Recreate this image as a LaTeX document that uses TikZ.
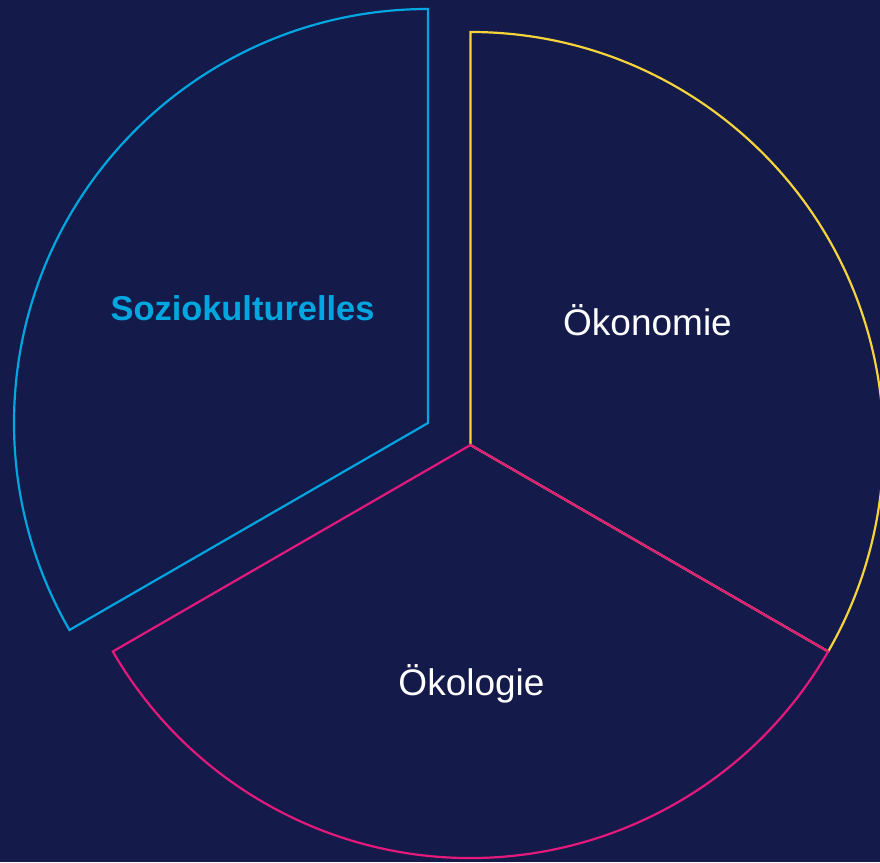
\documentclass[tikz,border=0pt]{standalone}
\usepackage{fontspec}
\setmainfont{Liberation Sans}
\definecolor{bg}{HTML}{141B4B}
\definecolor{cyanc}{HTML}{00A6E0}
\definecolor{yellowc}{HTML}{F5D33A}
\definecolor{pinkc}{HTML}{E3197B}
\tikzset{
  sector/.style={line width=2.2pt, line join=miter},
  lbl/.style={anchor=base, inner sep=0pt, font=\fontsize{37}{40}\selectfont, text=white},
}
\begin{document}
\begin{tikzpicture}[x=1pt,y=1pt]
\useasboundingbox (0,0) rectangle (880,862);
\fill[bg] (0,0) rectangle (880,862);
\coordinate (c) at (470.5,417);
\coordinate (s) at (428,439);
% Oekonomie
\draw[sector, yellowc] (c) -- ++(90:413) arc[start angle=90, end angle=-30, radius=413] -- cycle;
% Oekologie
\draw[sector, pinkc] (c) -- ++(-30:413) arc[start angle=-30, end angle=-150, radius=413] -- cycle;
% Soziokulturelles
\draw[sector, cyanc] (s) -- ++(90:414) arc[start angle=90, end angle=210, radius=414] -- cycle;
\node[lbl, text=cyanc, font=\fontsize{34.4}{38}\selectfont\bfseries] (tsoz) at (242.5,541) {Soziokulturelles};
\node[lbl] (toek) at (647.5,526) {Ökonomie};
\node[lbl] (tokl) at (471.5,167) {Ökologie};
\end{tikzpicture}
\end{document}
